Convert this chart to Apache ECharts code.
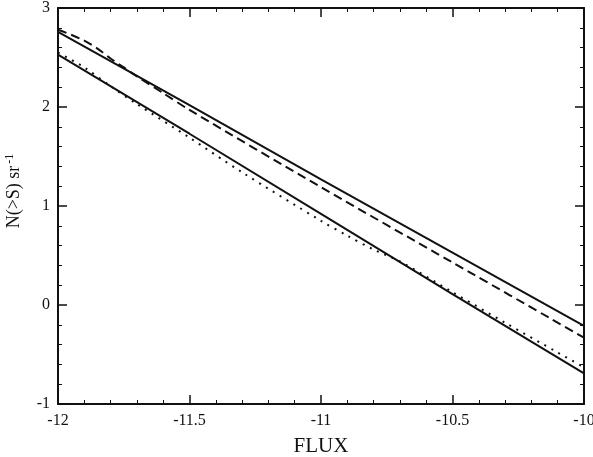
<!DOCTYPE html>
<html>
<head>
<meta charset="utf-8">
<script src="https://cdn.jsdelivr.net/npm/echarts@6/dist/echarts.min.js"></script>
<style>
  html, body { margin: 0; padding: 0; background: #fff; }
  #chart { width: 593px; height: 457px; }
</style>
</head>
<body>
<div id="chart"></div>
<script>
// x ticks and y ticks
var xTicks = [-12, -11.5, -11, -10.5, -10];
var yTicks = [-1, 0, 1, 2, 3];

// upper solid curve
var upperX = [-12, -11.5, -11, -10.5, -10];
var upperY = [2.76, 2.02, 1.27, 0.53, -0.21];

// dashed curve
var dashX = [-12, -11.95, -11.9, -11.85, -11.8, -11.75, -11.7, -11.6, -11.5, -11, -10.5, -10];
var dashY = [2.78, 2.73, 2.67, 2.59, 2.49, 2.40, 2.31, 2.14, 1.97, 1.19, 0.43, -0.33];

// lower solid curve
var lowerX = [-12, -11.5, -11, -10.5, -10];
var lowerY = [2.53, 1.73, 0.92, 0.11, -0.69];

// dotted curve
var dotX = [-12, -11.9, -11.8, -11.7, -11.5, -11.3, -11, -10.9, -10.8, -10.7, -10.5, -10.3, -10.1, -10];
var dotY = [2.55, 2.40, 2.21, 2.03, 1.69, 1.34, 0.85, 0.70, 0.56, 0.44, 0.13, -0.18, -0.48, -0.63];

function pairs(xs, ys) {
    var out = [];
    for (var i = 0; i < xs.length; i++) {
        out.push([xs[i], ys[i]]);
    }
    return out;
}

var ink = '#111';
var font = 'Liberation Serif';

var myChart = echarts.init(document.getElementById('chart'), null, { renderer: 'canvas' });

// shared axis look: ticks inside, minor ticks, thick frame
function axisBase(extra) {
    var a = {
        type: 'value',
        axisLine: { show: true, onZero: false, lineStyle: { color: ink, width: 2 } },
        axisTick: { show: true, inside: true, length: 9, lineStyle: { color: ink, width: 1.5 } },
        minorTick: { show: true, splitNumber: 5, length: 4, lineStyle: { color: ink, width: 1 } },
        splitLine: { show: false },
        minorSplitLine: { show: false }
    };
    for (var k in extra) a[k] = extra[k];
    return a;
}

var option = {
    animation: false,
    backgroundColor: '#fff',
    grid: { left: 58, right: 9, top: 8, bottom: 53, outerBoundsMode: 'none', containLabel: false },
    xAxis: [
        axisBase({
            position: 'bottom',
            min: xTicks[0], max: xTicks[xTicks.length - 1], interval: 0.5,
            name: 'FLUX', nameLocation: 'middle', nameGap: 32,
            nameTextStyle: { fontFamily: font, fontSize: 21, color: ink },
            axisLabel: { fontFamily: font, fontSize: 16, color: ink, margin: 9 }
        }),
        axisBase({
            position: 'top',
            min: xTicks[0], max: xTicks[xTicks.length - 1], interval: 0.5,
            axisLabel: { show: false }
        })
    ],
    yAxis: [
        axisBase({
            position: 'left',
            min: yTicks[0], max: yTicks[yTicks.length - 1], interval: 1,
            name: 'N(>S) sr{sup|-1}', nameLocation: 'middle', nameGap: 33,
            nameTextStyle: {
                fontFamily: font, fontSize: 18, color: ink,
                padding: [0, 0, 0, 30],
                rich: { sup: { fontFamily: font, fontSize: 12, color: ink, verticalAlign: 'top', padding: [0, 0, 9, 2] } }
            },
            axisLabel: { fontFamily: font, fontSize: 16, color: ink, margin: 8 }
        }),
        axisBase({
            position: 'right',
            min: yTicks[0], max: yTicks[yTicks.length - 1], interval: 1,
            axisLabel: { show: false }
        })
    ],
    series: [
        {
            type: 'line', data: pairs(upperX, upperY), showSymbol: false,
            lineStyle: { color: ink, width: 2, type: 'solid' }
        },
        {
            type: 'line', data: pairs(dashX, dashY), showSymbol: false, smooth: 0.3,
            lineStyle: { color: ink, width: 2, type: [9, 5] }
        },
        {
            type: 'line', data: pairs(lowerX, lowerY), showSymbol: false,
            lineStyle: { color: ink, width: 2, type: 'solid' }
        },
        {
            type: 'line', data: pairs(dotX, dotY), showSymbol: false, smooth: 0.3,
            lineStyle: { color: ink, width: 2, type: [2, 6] }
        }
    ]
};

myChart.setOption(option);
</script>
</body>
</html>
